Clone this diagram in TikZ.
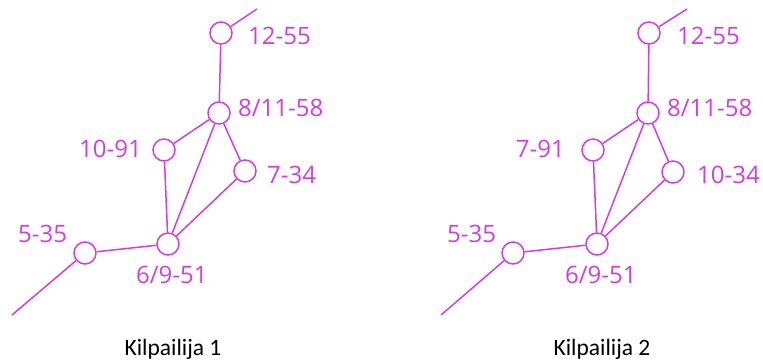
\documentclass[tikz,border=0pt]{standalone}
\usepackage{fontspec}
\newfontfamily\labfont{Open Sans}
\newfontfamily\capfont{Carlito}
\definecolor{mag}{RGB}{208,62,226}
\tikzset{
  stn/.style={circle,draw=mag,line width=1.5pt,fill=white,minimum size=22pt,inner sep=0pt},
  lab/.style={text=mag,font=\labfont\fontsize{24}{24}\selectfont,inner sep=0pt},
  captxt/.style={text=black,font=\capfont\fontsize{23.5}{24}\selectfont,inner sep=0pt,anchor=base},
  conn/.style={draw=mag,line width=1.5pt}
}
\begin{document}
\begin{tikzpicture}[x=1pt,y=-1pt]
\useasboundingbox (0,0) rectangle (763,361);
% ---------- Left ----------
\coordinate (Ltop) at (257,9);
\coordinate (Lbot) at (12,315);
\node[stn] (La) at (221,33) {};
\node[stn] (Lb) at (219,113) {};
\node[stn] (Lc) at (164,150) {};
\node[stn] (Ld) at (245,171) {};
\node[stn] (Le) at (168,244) {};
\node[stn] (Lf) at (85,253) {};
\draw[conn] (La) -- (Ltop);
\draw[conn] (La) -- (Lb);
\draw[conn] (Lb) -- (Lc);
\draw[conn] (Lb) -- (Ld);
\draw[conn] (Lb) -- (Le);
\draw[conn] (Lc) -- (Le);
\draw[conn] (Ld) -- (Le);
\draw[conn] (Le) -- (Lf);
\draw[conn] (Lf) -- (Lbot);
\node[lab,anchor=base west] (La-t) at (248,45) {12-55};
\node[lab,anchor=base west] (Lb-t) at (238,116) {8/11-58};
\node[lab,anchor=base east] (Lc-t) at (142,157) {10-91};
\node[lab,anchor=base west] (Ld-t) at (267,183) {7-34};
\node[lab,anchor=base west] (Le-t) at (136,283) {6/9-51};
\node[lab,anchor=base west] (Lf-t) at (18,242) {5-35};
\node[captxt] (Lcap) at (173,355) {Kilpailija 1};
% ---------- Right ----------
\coordinate (Rtop) at (687,9);
\coordinate (Rbot) at (441,315);
\node[stn] (Ra) at (649,33) {};
\node[stn] (Rb) at (648,113) {};
\node[stn] (Rc) at (593,150) {};
\node[stn] (Rd) at (673,172) {};
\node[stn] (Re) at (597,244) {};
\node[stn] (Rf) at (513,253) {};
\draw[conn] (Ra) -- (Rtop);
\draw[conn] (Ra) -- (Rb);
\draw[conn] (Rb) -- (Rc);
\draw[conn] (Rb) -- (Rd);
\draw[conn] (Rb) -- (Re);
\draw[conn] (Rc) -- (Re);
\draw[conn] (Rd) -- (Re);
\draw[conn] (Re) -- (Rf);
\draw[conn] (Rf) -- (Rbot);
\node[lab,anchor=base west] (Ra-t) at (677,45) {12-55};
\node[lab,anchor=base west] (Rb-t) at (667,116) {8/11-58};
\node[lab,anchor=base east] (Rc-t) at (565,157) {7-91};
\node[lab,anchor=base west] (Rd-t) at (697,183) {10-34};
\node[lab,anchor=base west] (Re-t) at (565,283) {6/9-51};
\node[lab,anchor=base west] (Rf-t) at (447,242) {5-35};
\node[captxt] (Rcap) at (602,355) {Kilpailija 2};
\end{tikzpicture}
\end{document}
